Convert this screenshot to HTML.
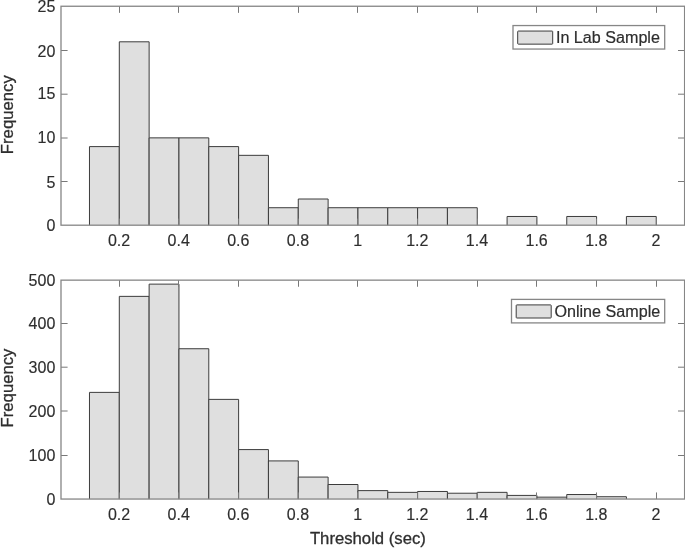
<!DOCTYPE html>
<html><head><meta charset="utf-8"><title>Histogram</title>
<style>html,body{margin:0;padding:0;background:#fff}svg{display:block}</style></head>
<body>
<svg width="685" height="548" viewBox="0 0 685 548" font-family="Liberation Sans, Arial, Helvetica, sans-serif" fill="#2e2e2e">
<style>text{stroke:#2e2e2e;stroke-linejoin:round}.t{stroke-width:0.15px}.l{stroke-width:0.3px}.g{stroke-width:0.2px}</style>
<rect width="685" height="548" fill="#fff"/>
<g fill="#dfdfdf" stroke="#3c3c3c" stroke-width="1.0" stroke-linejoin="miter">
<path d="M89.47 225.2V146.6H119.3V225.2"/>
<path d="M119.3 225.2V41.81H149.13V225.2"/>
<path d="M149.13 225.2V137.87H178.96V225.2"/>
<path d="M178.96 225.2V137.87H208.79V225.2"/>
<path d="M208.79 225.2V146.6H238.62V225.2"/>
<path d="M238.62 225.2V155.34H268.45V225.2"/>
<path d="M268.45 225.2V207.73H298.28V225.2"/>
<path d="M298.28 225.2V199.0H328.11V225.2"/>
<path d="M328.11 225.2V207.73H357.94V225.2"/>
<path d="M357.94 225.2V207.73H387.77V225.2"/>
<path d="M387.77 225.2V207.73H417.6V225.2"/>
<path d="M417.6 225.2V207.73H447.43V225.2"/>
<path d="M447.43 225.2V207.73H477.26V225.2"/>
<path d="M507.09 225.2V216.47H536.92V225.2"/>
<path d="M566.75 225.2V216.47H596.58V225.2"/>
<path d="M626.41 225.2V216.47H656.24V225.2"/>
</g>
<path d="M119.5 225.2v-6.6M119.5 6.25v6.6M178.5 225.2v-6.6M178.5 6.25v6.6M238.5 225.2v-6.6M238.5 6.25v6.6M298.5 225.2v-6.6M298.5 6.25v6.6M357.5 225.2v-6.6M357.5 6.25v6.6M417.5 225.2v-6.6M417.5 6.25v6.6M477.5 225.2v-6.6M477.5 6.25v6.6M536.5 225.2v-6.6M536.5 6.25v6.6M596.5 225.2v-6.6M596.5 6.25v6.6M656.5 225.2v-6.6M656.5 6.25v6.6M61.0 181.5h6.6M684.6 181.5h-6.6M61.0 138.0h6.6M684.6 138.0h-6.6M61.0 94.2h6.6M684.6 94.2h-6.6M61.0 50.5h6.6M684.6 50.5h-6.6" stroke="#787878" stroke-width="1" fill="none"/>
<rect x="61.0" y="6.25" width="623.60" height="218.95" fill="none" stroke="#868686" stroke-width="1.3"/>
<text class="t" transform="translate(119.00 246.00)" font-size="16.0" text-anchor="middle">0.2</text>
<text class="t" transform="translate(178.66 246.00)" font-size="16.0" text-anchor="middle">0.4</text>
<text class="t" transform="translate(238.32 246.00)" font-size="16.0" text-anchor="middle">0.6</text>
<text class="t" transform="translate(297.98 246.00)" font-size="16.0" text-anchor="middle">0.8</text>
<text class="t" transform="translate(357.64 246.00)" font-size="16.0" text-anchor="middle">1</text>
<text class="t" transform="translate(417.30 246.00)" font-size="16.0" text-anchor="middle">1.2</text>
<text class="t" transform="translate(476.96 246.00)" font-size="16.0" text-anchor="middle">1.4</text>
<text class="t" transform="translate(536.62 246.00)" font-size="16.0" text-anchor="middle">1.6</text>
<text class="t" transform="translate(596.28 246.00)" font-size="16.0" text-anchor="middle">1.8</text>
<text class="t" transform="translate(655.94 246.00)" font-size="16.0" text-anchor="middle">2</text>
<text class="t" transform="translate(55.30 231.10)" font-size="16.0" text-anchor="end">0</text>
<text class="t" transform="translate(55.30 188.10)" font-size="16.0" text-anchor="end">5</text>
<text class="t" transform="translate(55.30 142.70)" font-size="16.0" text-anchor="end">10</text>
<text class="t" transform="translate(55.30 99.40)" font-size="16.0" text-anchor="end">15</text>
<text class="t" transform="translate(55.30 56.50)" font-size="16.0" text-anchor="end">20</text>
<text class="t" transform="translate(55.30 11.60)" font-size="16.0" text-anchor="end">25</text>
<text class="l" transform="translate(12.50 114.70) rotate(-90) scale(1 1.02)" font-size="16.7" text-anchor="middle">Frequency</text>
<rect x="513.0" y="25.55" width="151.70" height="23.50" fill="#fff" stroke="#868686" stroke-width="1.3"/>
<rect x="517.70" y="31.05" width="35.0" height="13.1" rx="0.6" fill="#dfdfdf" stroke="#3c3c3c" stroke-width="1.0"/>
<text class="g" transform="translate(555.90 43.45) scale(1 0.99)" font-size="16.15" text-anchor="start">In Lab Sample</text>
<g fill="#dfdfdf" stroke="#3c3c3c" stroke-width="1.0" stroke-linejoin="miter">
<path d="M89.47 499.05V392.39H119.3V499.05"/>
<path d="M119.3 499.05V296.36H149.13V499.05"/>
<path d="M149.13 499.05V284.14H178.96V499.05"/>
<path d="M178.96 499.05V348.74H208.79V499.05"/>
<path d="M208.79 499.05V399.38H238.62V499.05"/>
<path d="M238.62 499.05V449.58H268.45V499.05"/>
<path d="M268.45 499.05V460.92H298.28V499.05"/>
<path d="M298.28 499.05V477.07H328.11V499.05"/>
<path d="M328.11 499.05V484.5H357.94V499.05"/>
<path d="M357.94 499.05V490.61H387.77V499.05"/>
<path d="M387.77 499.05V492.35H417.6V499.05"/>
<path d="M417.6 499.05V491.48H447.43V499.05"/>
<path d="M447.43 499.05V493.23H477.26V499.05"/>
<path d="M477.26 499.05V492.35H507.09V499.05"/>
<path d="M507.09 499.05V495.41H536.92V499.05"/>
<path d="M536.92 499.05V497.15H566.75V499.05"/>
<path d="M566.75 499.05V494.53H596.58V499.05"/>
<path d="M596.58 499.05V496.72H626.41V499.05"/>
</g>
<path d="M119.5 499.05v-6.6M119.5 280.15v6.6M178.5 499.05v-6.6M178.5 280.15v6.6M238.5 499.05v-6.6M238.5 280.15v6.6M298.5 499.05v-6.6M298.5 280.15v6.6M357.5 499.05v-6.6M357.5 280.15v6.6M417.5 499.05v-6.6M417.5 280.15v6.6M477.5 499.05v-6.6M477.5 280.15v6.6M536.5 499.05v-6.6M536.5 280.15v6.6M596.5 499.05v-6.6M596.5 280.15v6.6M656.5 499.05v-6.6M656.5 280.15v6.6M61.0 455.5h6.6M684.6 455.5h-6.6M61.0 411.0h6.6M684.6 411.0h-6.6M61.0 367.2h6.6M684.6 367.2h-6.6M61.0 323.5h6.6M684.6 323.5h-6.6" stroke="#787878" stroke-width="1" fill="none"/>
<rect x="61.0" y="280.15" width="623.60" height="218.90" fill="none" stroke="#868686" stroke-width="1.3"/>
<text class="t" transform="translate(119.00 519.60)" font-size="16.0" text-anchor="middle">0.2</text>
<text class="t" transform="translate(178.66 519.60)" font-size="16.0" text-anchor="middle">0.4</text>
<text class="t" transform="translate(238.32 519.60)" font-size="16.0" text-anchor="middle">0.6</text>
<text class="t" transform="translate(297.98 519.60)" font-size="16.0" text-anchor="middle">0.8</text>
<text class="t" transform="translate(357.64 519.60)" font-size="16.0" text-anchor="middle">1</text>
<text class="t" transform="translate(417.30 519.60)" font-size="16.0" text-anchor="middle">1.2</text>
<text class="t" transform="translate(476.96 519.60)" font-size="16.0" text-anchor="middle">1.4</text>
<text class="t" transform="translate(536.62 519.60)" font-size="16.0" text-anchor="middle">1.6</text>
<text class="t" transform="translate(596.28 519.60)" font-size="16.0" text-anchor="middle">1.8</text>
<text class="t" transform="translate(655.94 519.60)" font-size="16.0" text-anchor="middle">2</text>
<text class="t" transform="translate(55.30 504.65)" font-size="16.0" text-anchor="end">0</text>
<text class="t" transform="translate(55.30 460.70)" font-size="16.0" text-anchor="end">100</text>
<text class="t" transform="translate(55.30 416.80)" font-size="16.0" text-anchor="end">200</text>
<text class="t" transform="translate(55.30 373.00)" font-size="16.0" text-anchor="end">300</text>
<text class="t" transform="translate(55.30 329.30)" font-size="16.0" text-anchor="end">400</text>
<text class="t" transform="translate(55.30 286.00)" font-size="16.0" text-anchor="end">500</text>
<text class="l" transform="translate(12.50 388.00) rotate(-90) scale(1 1.02)" font-size="16.7" text-anchor="middle">Frequency</text>
<rect x="511.5" y="299.40" width="153.20" height="23.50" fill="#fff" stroke="#868686" stroke-width="1.3"/>
<rect x="516.20" y="304.90" width="35.0" height="13.1" rx="0.6" fill="#dfdfdf" stroke="#3c3c3c" stroke-width="1.0"/>
<text class="g" transform="translate(554.40 317.30) scale(1 0.99)" font-size="16.15" text-anchor="start">Online Sample</text>
<text class="l" transform="translate(367.90 544.20) scale(1 1.02)" font-size="16.7" text-anchor="middle">Threshold (sec)</text>
</svg>
</body></html>
